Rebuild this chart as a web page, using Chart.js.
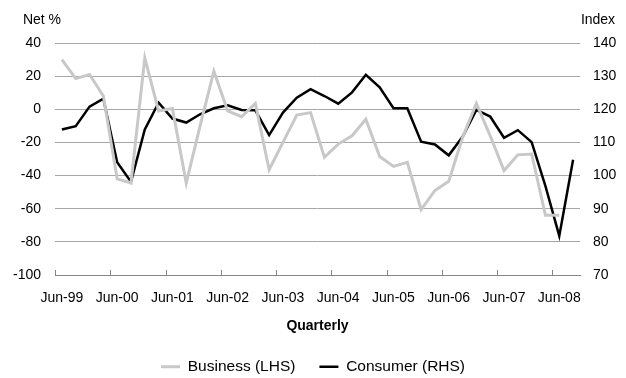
<!DOCTYPE html>
<html>
<head>
<meta charset="utf-8">
<script src="https://cdn.jsdelivr.net/npm/chart.js@4/dist/chart.umd.min.js"></script>
<style>
  html, body { margin: 0; padding: 0; background: #fff; }
  #wrap { width: 626px; height: 378px; position: relative; }
</style>
</head>
<body>
<div id="wrap"><canvas id="chart"></canvas></div>
<script>
// quarterly, Jun-99 .. Sep-08
var quarters = [
  "Jun-99", "Sep-99", "Dec-99", "Mar-00", "Jun-00", "Sep-00", "Dec-00", "Mar-01",
  "Jun-01", "Sep-01", "Dec-01", "Mar-02", "Jun-02", "Sep-02", "Dec-02", "Mar-03",
  "Jun-03", "Sep-03", "Dec-03", "Mar-04", "Jun-04", "Sep-04", "Dec-04", "Mar-05",
  "Jun-05", "Sep-05", "Dec-05", "Mar-06", "Jun-06", "Sep-06", "Dec-06", "Mar-07",
  "Jun-07", "Sep-07", "Dec-07", "Mar-08", "Jun-08", "Sep-08"
];

// Business, net % (LHS)
var business = [
  30, 18.5, 21, 8, -42, -44.5, 31, -1,
  0.5, -44.5, -10, 23, -1, -4.5, 3.5, -36.5,
  -20, -3.5, -2, -29, -21, -16, -6, -28.5,
  -34.5, -32, -60.5, -49, -43.5, -17, 3.5, -16,
  -37, -27.5, -27, -64, -64, null
];

// Consumer, index (RHS)
var consumer = [
  113.9, 114.9, 120.8, 123.2, 104, 98.1, 113.9, 122,
  117.2, 116, 118.5, 120.3, 121.2, 119.8, 119.7, 112.2,
  119, 123.5, 126.1, 124, 121.7, 125.1, 130.4, 126.6,
  120.3, 120.3, 110.2, 109.4, 106.1, 111.7, 119.8, 117.8,
  111.4, 113.7, 110.1, 96.8, 81.8, 104.8
];

var leftTicks = { min: -100, max: 40, step: 20 };
var rightTicks = { min: 70, max: 140, step: 10 };
var labelEvery = 4;

var FONT = "'Liberation Sans', Arial, sans-serif";
Chart.defaults.font.family = FONT;
Chart.defaults.font.size = 14;
Chart.defaults.color = "#000";

// axis unit labels and inside tick marks on the category axis
var extras = {
  id: "extras",
  afterDraw: function (chart) {
    var ctx = chart.ctx;
    var area = chart.chartArea;
    var x = chart.scales.x;
    ctx.save();
    ctx.strokeStyle = "#868686";
    ctx.lineWidth = 1;
    for (var i = 0; i < quarters.length; i += labelEvery) {
      var px = Math.round(x.getPixelForValue(i - 0.5)) + 0.5;
      ctx.beginPath();
      ctx.moveTo(px, area.bottom);
      ctx.lineTo(px, area.bottom - 5);
      ctx.stroke();
    }
    ctx.fillStyle = "#000";
    ctx.font = "14px " + FONT;
    ctx.textBaseline = "middle";
    ctx.textAlign = "center";
    ctx.fillText("Net %", area.left - 13, 20);
    ctx.fillText("Index", area.right + 18, 20);
    ctx.restore();
  }
};

var ctx = document.getElementById("chart").getContext("2d");
var chart = new Chart(ctx, {
  type: "line",
  data: {
    labels: quarters,
    datasets: [
      {
        label: "Business (LHS)",
        data: business,
        yAxisID: "y",
        borderColor: "#c8c8c8",
        backgroundColor: "#c8c8c8",
        borderWidth: 3,
        pointRadius: 0,
        pointStyle: "line",
        tension: 0,
        fill: false
      },
      {
        label: "Consumer (RHS)",
        data: consumer,
        yAxisID: "y1",
        borderColor: "#000",
        backgroundColor: "#000",
        borderWidth: 2.5,
        pointRadius: 0,
        pointStyle: "line",
        tension: 0,
        fill: false
      }
    ]
  },
  options: {
    responsive: true,
    maintainAspectRatio: false,
    animation: false,
    layout: { padding: { top: 43, left: 0, right: 0, bottom: 0 } },
    plugins: {
      tooltip: { enabled: false },
      legend: {
        position: "bottom",
        maxHeight: 43,
        labels: {
          usePointStyle: true,
          pointStyleWidth: 19,
          boxHeight: 3,
          padding: 24,
          color: "#000",
          font: { size: 15.5 }
        }
      }
    },
    scales: {
      x: {
        offset: true,
        grid: { display: true, drawOnChartArea: false, drawTicks: false, offset: true },
        border: { display: true, color: "#868686" },
        ticks: {
          autoSkip: false,
          maxRotation: 0,
          padding: 15,
          color: "#000",
          callback: function (v, i) { return i % labelEvery === 0 ? quarters[i] : ""; }
        },
        title: {
          display: true,
          text: "Quarterly",
          color: "#000",
          font: { size: 14, weight: "bold" },
          padding: { top: 0, bottom: 0 }
        },
        afterFit: function (s) { s.height = 60; }
      },
      y: {
        position: "left",
        min: leftTicks.min,
        max: leftTicks.max,
        grid: { color: "#a6a6a6", drawTicks: false },
        border: { display: false },
        ticks: { stepSize: leftTicks.step, padding: 14, color: "#000" },
        afterFit: function (s) { s.width = 55; }
      },
      y1: {
        position: "right",
        min: rightTicks.min,
        max: rightTicks.max,
        grid: { drawOnChartArea: false, drawTicks: false },
        border: { display: false },
        ticks: { stepSize: rightTicks.step, padding: 13, color: "#000" },
        afterFit: function (s) { s.width = 46; }
      }
    }
  },
  plugins: [extras]
});
</script>
</body>
</html>
